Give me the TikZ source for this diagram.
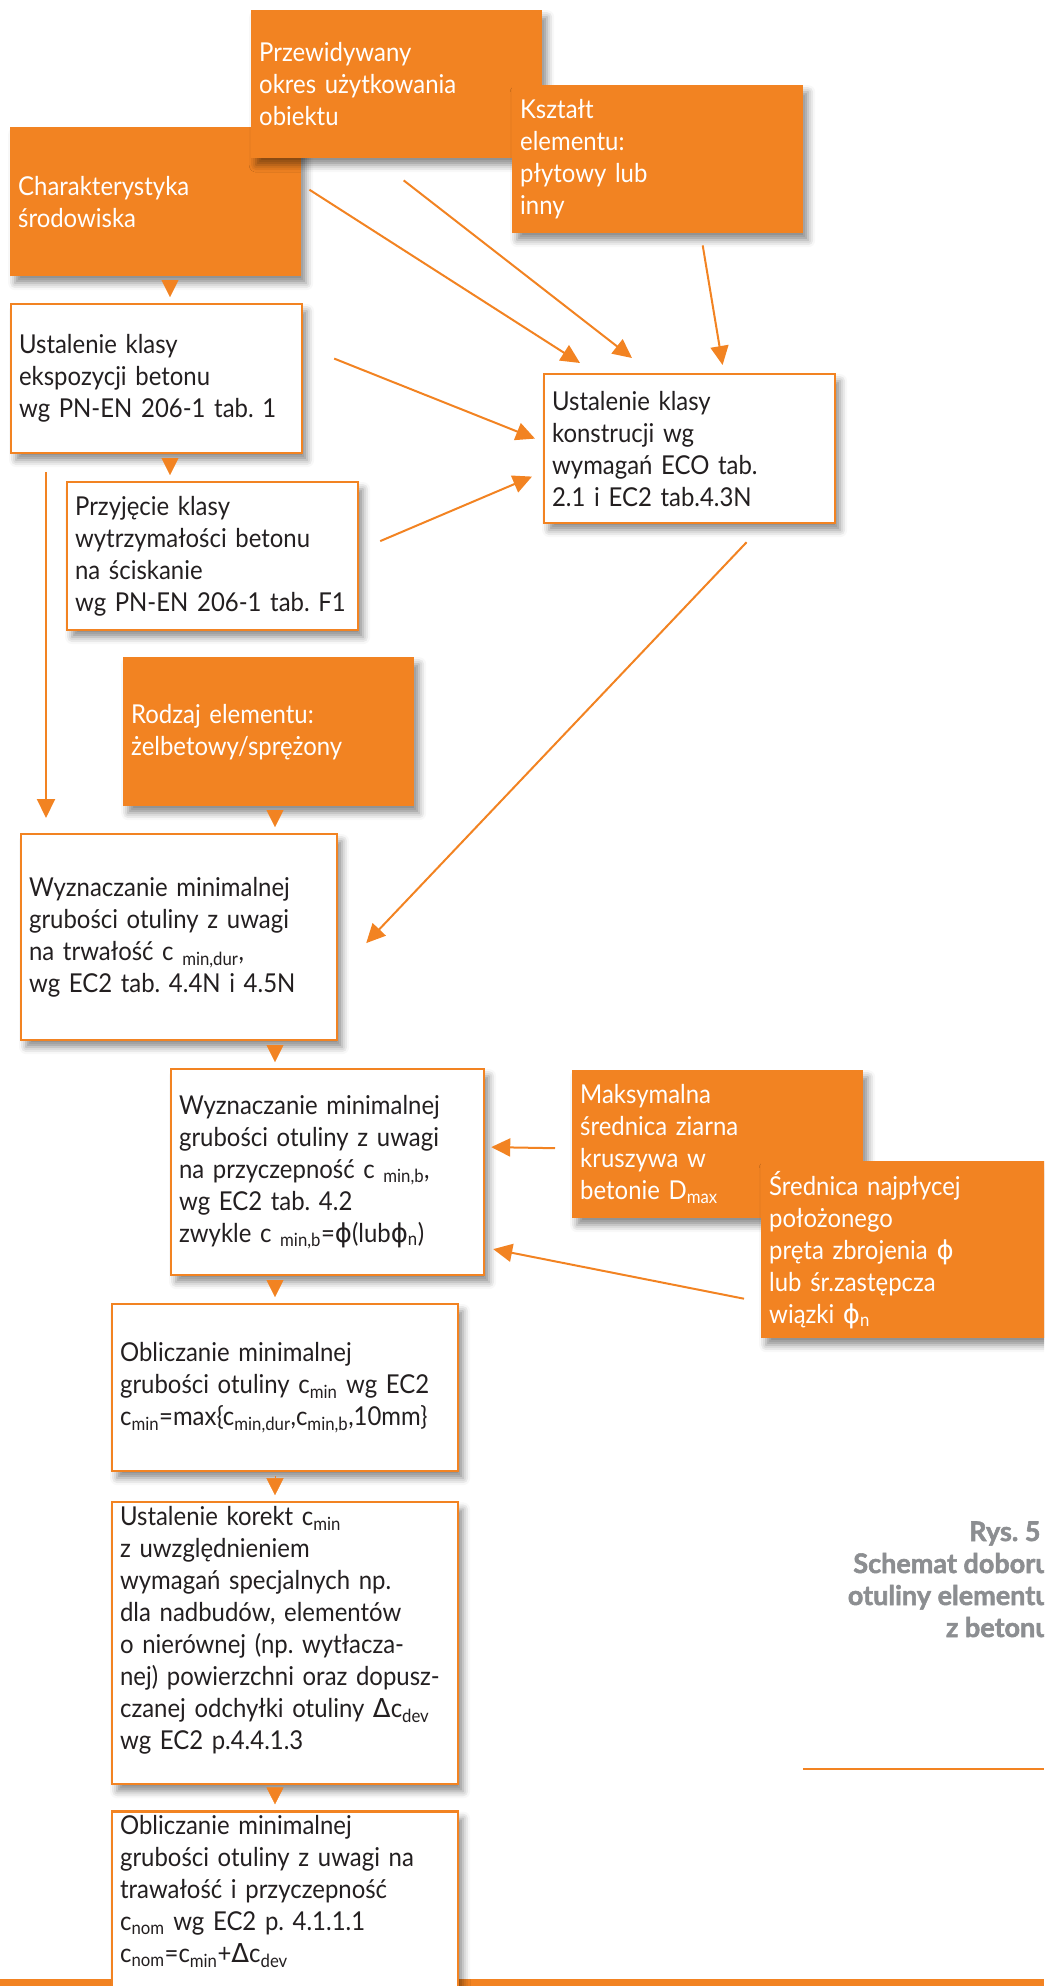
\documentclass[tikz,border=0pt]{standalone}
\usepackage{fontspec}
\setmainfont{Lato}[FakeStretch=0.92, WordSpace=0.8]
\newfontfamily\grk{DejaVu Sans}
\newfontfamily\capfont{Lato}[BoldFeatures={FakeBold=2}]
\usepackage{xcolor}
\usepackage{tikz}
\usetikzlibrary{arrows.meta, positioning, calc, shadows.blur}
\definecolor{ozorange}{RGB}{242,131,34}
\definecolor{oztext}{RGB}{35,31,32}
\definecolor{ozgray}{RGB}{140,142,145}
\newcommand{\idx}[1]{\textsubscript{#1}}
\newcommand{\fii}{{\grk ϕ}}
\newcommand{\dlt}{{\grk Δ}}
\frenchspacing
\tikzset{
    schemat/.style={x=1pt, y=-1pt, font=\fontsize{26}{32}\selectfont},
    box/.style={anchor=north west, align=left, text width=275pt, inner xsep=8pt, inner ysep=4pt,
        minimum height=149pt,
        blur shadow={shadow xshift=5pt, shadow yshift=-7pt, shadow blur radius=7pt, shadow opacity=45}},
    inputbox/.style={box, fill=ozorange, text=white},
    stepbox/.style={box, draw=ozorange, fill=white, line width=2.2pt, text=oztext},
    flow/.style={draw=ozorange, line width=2pt, -{Triangle[length=19pt, width=18pt]}},
    % short drop between two steps: only the tip is seen
    drop/.style={draw=ozorange, line width=0.4pt, -{Triangle[length=17pt, width=17pt]},
        shorten <=4pt, shorten >=6pt},
    caption/.style={anchor=base east, align=right, text=ozgray, font=\fontsize{27}{32}\selectfont\capfont\bfseries},
}

\begin{document}
\begin{tikzpicture}[schemat]
    \useasboundingbox (0,0) rectangle (1044,1986);
    \clip (0,0) rectangle (1044,1986);
    \coordinate (colA) at (170,0);
    \coordinate (colB) at (275,0);

    % data at the top
    \node[inputbox]                       (charakter) at (10,127)  {Charakterystyka\\środowiska};
    \node[inputbox, minimum height=148pt] (przewid)   at (251,10)  {Przewidywany\\okres użytkowania\\obiektu};
    \node[inputbox, minimum height=148pt] (ksztalt)   at (512,85)  {Kształt\\elementu:\\płytowy lub\\inny};

    \node[stepbox]                        (ekspoz)    at (10,303)  {Ustalenie klasy\\ekspozycji betonu\\wg PN-EN 206-1 tab. 1};
    \node[stepbox]                        (konstr)    at (543,373) {Ustalenie klasy\\konstrucji wg\\wymagań ECO tab.\\2.1 i EC2 tab.4.3N};
    \node[stepbox, minimum height=148pt]  (przyjecie) at (66,481)  {Przyjęcie klasy\\wytrzymałości betonu\\na ściskanie\\\mbox{wg PN-EN 206-1 tab. F1}};
    \node[inputbox]                       (rodzaj)    at (123,657) {Rodzaj elementu:\\żelbetowy/sprężony};

    \node[stepbox, text width=300pt, minimum height=206pt] (wyzn1) at (20,833)
        {Wyznaczanie minimalnej\\grubości otuliny z uwagi\\na trwałość c \idx{min,dur},\\wg EC2 tab. 4.4N i 4.5N};
    \node[stepbox, text width=297pt, minimum height=206pt] (wyzn2) at (170,1068)
        {Wyznaczanie minimalnej\\grubości otuliny z uwagi\\na przyczepność c \idx{min,b},\\wg EC2 tab. 4.2\\zwykle c \idx{min,b}=\fii(lub\fii\idx{n})};
    \node[inputbox, minimum height=148pt] (maks)      at (572,1070) {Maksymalna\\średnica ziarna\\kruszywa w\\betonie D\idx{max}};
    \node[inputbox, minimum height=177pt] (srednica)  at (761,1161) {Średnica najpłycej\\położonego\\pręta zbrojenia \fii\\lub śr.zastępcza\\wiązki \fii\idx{n}};

    \node[stepbox, text width=330pt, minimum height=167pt] (oblicz1) at (111,1303)
        {Obliczanie minimalnej\\grubości otuliny c\idx{min} wg EC2\\c\idx{min}=max\{c\idx{min,dur},c\idx{min,b},10mm\}};
    \node[stepbox, text width=330pt, minimum height=0pt, text height=19pt, text depth=255pt,
        below=29pt of oblicz1] (korekt)
        {Ustalenie korekt c\idx{min}\\z uwzględnieniem\\wymagań specjalnych np.\\dla nadbudów, elementów\\o nierównej (np. wytłacza-\\\mbox{nej) powierzchni oraz dopusz-}\\czanej odchyłki otuliny \dlt c\idx{dev}\\wg EC2 p.4.4.1.3};

    \fill[ozorange] (0,1979) rectangle (1044,1990);
    \node[stepbox, text width=330pt, minimum height=0pt, text height=19pt, text depth=177pt,
        below=25pt of korekt] (oblicz2)
        {Obliczanie minimalnej\\grubości otuliny z uwagi na\\trawałość i przyczepność\\c\idx{nom} wg EC2 p. 4.1.1.1\\c\idx{nom}=c\idx{min}+\dlt c\idx{dev}};

    \node[caption] (rys) at (1054,1637) {Rys. 5\hspace*{10pt}\\Schemat doboru\\otuliny elementu\\z betonu};
    \draw[ozorange, line width=2pt] (803,1769) -- (1044,1769);

    % into the class of structure
    \draw[flow] ($(charakter.east)+(8,-12)$) -- ($(konstr.north west)+(37,-10)$);
    \draw[flow] ($(przewid.south)+(7,22)$)   -- ($(konstr.north west)+(89,-15)$);
    \draw[flow] ($(ksztalt.south)+(45,12)$)  -- ($(konstr.north)+(33,-8)$);
    \draw[flow] ($(ekspoz.east)+(31,-20)$)   -- ($(konstr.west)+(-8,-10)$);
    \draw[flow] ($(przyjecie.east)+(21,-15)$) -- ($(konstr.west)+(-11,28)$);

    % towards c_min,dur and c_min,b
    \draw[flow] ($(konstr.south)+(57,18)$)   -- ($(wyzn1.east)+(28,6)$);
    \draw[flow] ($(ekspoz.south west)+(36,18)$) -- ($(wyzn1.north west)+(26,-15)$);
    \draw[flow] ($(maks.west)+(-17,4)$)      -- ($(wyzn2.east)+(6,-25)$);
    \draw[flow] ($(srednica.west)+(-17,49)$) -- ($(wyzn2.east)+(8,77)$);

    % main chain
    \draw[drop] (charakter.south -| colA) -- (ekspoz.north -| colA);
    \draw[drop] (ekspoz.south -| colA)    -- (przyjecie.north -| colA);
    \draw[drop] (rodzaj.south -| colB)    -- (wyzn1.north -| colB);
    \draw[drop] (wyzn1.south -| colB)     -- (wyzn2.north -| colB);
    \draw[drop] (wyzn2.south -| colB)     -- (oblicz1.north -| colB);
    \draw[drop] (oblicz1.south -| colB)   -- (korekt.north -| colB);
    \draw[drop] (korekt.south -| colB)    -- (oblicz2.north -| colB);
\end{tikzpicture}
\end{document}
